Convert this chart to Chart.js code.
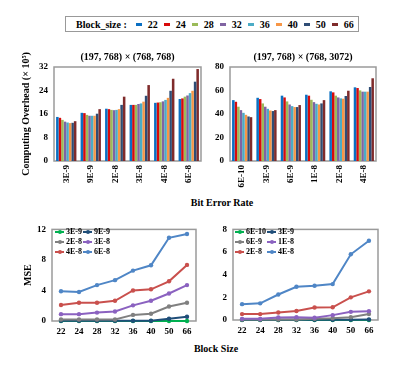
<!DOCTYPE html>
<html>
<head>
<meta charset="utf-8">
<script src="https://cdn.jsdelivr.net/npm/chart.js@4.4.0/dist/chart.umd.min.js"></script>
<style>
  body { margin: 0; background: #fff; }
  #wrap { position: relative; width: 398px; height: 372px; overflow: hidden;
          font-family: "Liberation Serif", serif; font-weight: bold; color: #000; }
  canvas { position: absolute; }
  #topLegend { position: absolute; left: 65px; top: 16px; width: 292px; height: 14px;
               border: 1px solid #999; display: flex; align-items: center; font-size: 10px; white-space: nowrap; }
  #topLegend .head { margin-left: 10px; margin-right: 9px; flex-shrink: 0; }
  #topLegend .sw { display: inline-block; width: 6px; height: 3px; margin-right: 6px; }
  #topLegend .it { margin-right: 6px; display: flex; align-items: center; flex-shrink: 0; }
  .axisLabel { position: absolute; font-size: 10px; transform: translateX(-50%); white-space: nowrap; }
  .lineLegend { position: absolute; display: grid; grid-template-columns: auto auto; column-gap: 1px;
                font-size: 8px; line-height: 10px; }
  .lineLegend .it { display: flex; align-items: center; white-space: nowrap; }
  .lineLegend .mk { position: relative; display: inline-block; width: 9px; height: 2px; margin-right: 2px; flex-shrink: 0; }
  .lineLegend .mk i { position: absolute; left: 2.5px; top: -1px; width: 4px; height: 4px; border-radius: 50%; }
</style>
</head>
<body>
<div id="wrap">
  <div id="topLegend"><span class="head">Block_size :</span></div>
  <canvas id="ovhSmall" width="189" height="146" style="left:16px;top:48px"></canvas>
  <canvas id="ovhLarge" width="180" height="146" style="left:205px;top:48px"></canvas>
  <div class="axisLabel" style="left:222px;top:197px">Bit Error Rate</div>
  <canvas id="mseSmall" width="182" height="125" style="left:18px;top:218px"></canvas>
  <canvas id="mseLarge" width="180" height="125" style="left:205px;top:218px"></canvas>
  <div class="axisLabel" style="left:216px;top:343px">Block Size</div>
  <div class="lineLegend" id="legSmall" style="left:55px;top:227px"></div>
  <div class="lineLegend" id="legLarge" style="left:235px;top:227px"></div>
</div>
<script>
// block sizes (bar series / line x-axis)
const blockSizes = ['22', '24', '28', '32', '36', '40', '50', '66'];
const barColors = ['#0a6fc2', '#d80a0a', '#9bbb59', '#8064a2', '#4bacc6', '#f79646', '#2f4d75', '#7f2b2b'];

// bit error rates
const berSmall = ['3E-9', '9E-9', '2E-8', '3E-8', '4E-8', '6E-8'];
const berLarge = ['6E-10', '3E-9', '6E-9', '1E-8', '2E-8', '4E-8'];

// computing overhead (x10^5), one row per block size, columns = BER
const overheadSmall = [
  [15.0, 16.4, 17.8, 19.1, 19.8, 21.1],
  [14.7, 16.3, 17.65, 19.1, 19.9, 21.3],
  [14.0, 15.7, 17.4, 19.1, 20.0, 21.9],
  [13.4, 15.4, 17.3, 19.4, 20.3, 22.3],
  [13.1, 15.4, 17.4, 19.6, 20.8, 23.1],
  [12.9, 15.4, 17.65, 20.2, 21.5, 23.9],
  [13.0, 16.1, 19.1, 22.2, 23.9, 27.0],
  [13.55, 17.65, 21.9, 25.85, 28.0, 31.3]
];
const overheadLarge = [
  [51.8, 53.8, 55.6, 56.4, 59.3, 62.7],
  [50.4, 52.7, 54.1, 55.6, 58.4, 62.1],
  [46.2, 49.0, 50.7, 52.1, 55.6, 60.1],
  [43.3, 46.2, 48.1, 50.1, 54.1, 59.0],
  [41.0, 44.4, 46.7, 48.7, 53.3, 59.0],
  [39.3, 43.0, 45.9, 48.1, 53.0, 59.0],
  [37.9, 42.5, 45.9, 49.0, 55.3, 63.0],
  [37.3, 43.3, 47.6, 51.8, 59.8, 70.4]
];

// MSE per BER, x = block size
const mseSmall = [
  [0, 0, 0, 0, 0, 0, 0, 0],
  [0.03, 0.03, 0.03, 0.03, 0.03, 0.03, 0.3, 0.55],
  [0.2, 0.2, 0.2, 0.2, 0.8, 0.95, 1.9, 2.4],
  [0.9, 0.9, 1.1, 1.25, 2.05, 2.65, 3.6, 4.7],
  [2.1, 2.4, 2.4, 2.65, 4.0, 4.15, 5.2, 7.35],
  [3.9, 3.8, 4.7, 5.35, 6.6, 7.3, 10.9, 11.4]
];
const mseLarge = [
  [0, 0, 0, 0, 0, 0, 0, 0],
  [0.02, 0.02, 0.02, 0.02, 0.02, 0.02, 0.03, 0.05],
  [0.05, 0.05, 0.05, 0.05, 0.1, 0.15, 0.25, 0.52],
  [0.1, 0.1, 0.23, 0.25, 0.2, 0.43, 0.72, 0.78],
  [0.52, 0.52, 0.66, 0.8, 1.1, 1.12, 2.0, 2.53],
  [1.4, 1.47, 2.25, 2.93, 3.02, 3.17, 5.8, 7.0]
];
const lineColors = ['#00b050', '#1f4e79', '#808080', '#8b62c0', '#c9504d', '#4f86c6'];

Chart.defaults.color = '#000';
Chart.defaults.font.family = '"Liberation Serif", serif';
Chart.defaults.font.weight = 'bold';

const tickFont = { size: 9, weight: 'bold' };
const titleFont = { size: 10, weight: 'bold' };

// grey box round the plot area
const frame = {
  id: 'frame',
  beforeDatasetsDraw(chart) {
    const a = chart.chartArea, ctx = chart.ctx;
    ctx.save();
    ctx.strokeStyle = '#9a9a9a';
    ctx.lineWidth = 1.5;
    ctx.strokeRect(a.left, a.top, a.right - a.left, a.bottom - a.top);
    ctx.restore();
  }
};

const barChart = (id, labels, rows, max, step, title, yTitle, yWidth, padRight) => {
  new Chart(document.getElementById(id), {
    type: 'bar',
    data: {
      labels: labels,
      datasets: blockSizes.map((b, i) => ({
        label: b, data: rows[i], backgroundColor: barColors[i],
        borderWidth: 0, categoryPercentage: 0.83, barPercentage: 1
      }))
    },
    options: {
      responsive: false, animation: false,
      layout: { padding: { right: padRight } },
      plugins: {
        legend: { display: false }, tooltip: { enabled: false },
        title: { display: true, text: title, fullSize: false, font: titleFont, color: '#000', padding: { top: 3, bottom: 4 } }
      },
      scales: {
        x: {
          grid: { display: false, drawTicks: false }, border: { display: false },
          ticks: { minRotation: 90, maxRotation: 90, autoSkip: false, padding: 4, font: tickFont },
          afterFit: (s) => { s.height = 33; }
        },
        y: {
          min: 0, max: max,
          grid: { display: false, drawTicks: false }, border: { display: false },
          ticks: { stepSize: step, padding: 6, font: tickFont },
          title: { display: !!yTitle, text: yTitle, font: titleFont, color: '#000' },
          afterFit: (s) => { s.width = yWidth; }
        }
      }
    },
    plugins: [frame]
  });
};

const lineChart = (id, names, rows, max, step, yTitle, yWidth, padRight, padTop, xHeight) => {
  new Chart(document.getElementById(id), {
    type: 'line',
    data: {
      labels: blockSizes,
      datasets: names.map((n, i) => ({
        label: n, data: rows[i], borderColor: lineColors[i], backgroundColor: lineColors[i],
        borderWidth: 2, pointRadius: 2.2, pointBorderWidth: 0, tension: 0, clip: 4,
        order: 10 - i
      }))
    },
    options: {
      responsive: false, animation: false,
      layout: { padding: { right: padRight, top: padTop } },
      plugins: { legend: { display: false }, tooltip: { enabled: false } },
      scales: {
        x: {
          offset: true,
          grid: { display: false, drawTicks: false }, border: { display: false },
          ticks: { autoSkip: false, maxRotation: 0, padding: 5, font: tickFont },
          afterFit: (s) => { s.height = xHeight; }
        },
        y: {
          min: 0, max: max,
          grid: { display: false, drawTicks: false }, border: { display: false },
          ticks: { stepSize: step, padding: 6, font: tickFont },
          title: { display: !!yTitle, text: yTitle, font: titleFont, color: '#000' },
          afterFit: (s) => { s.width = yWidth; }
        }
      }
    },
    plugins: [frame]
  });
};

// shared legend for the bar charts
const topLegend = document.getElementById('topLegend');
blockSizes.forEach((b, i) => {
  const it = document.createElement('span');
  it.className = 'it';
  it.innerHTML = '<span class="sw" style="background:' + barColors[i] + '"></span>' + b;
  topLegend.appendChild(it);
});

// two-column legends for the line charts
const lineLegend = (id, names) => {
  const el = document.getElementById(id);
  names.forEach((n, i) => {
    const it = document.createElement('span');
    it.className = 'it';
    it.innerHTML = '<span class="mk" style="background:' + lineColors[i] + '"><i style="background:' + lineColors[i] + '"></i></span>' + n;
    el.appendChild(it);
  });
};

barChart('ovhSmall', berSmall, overheadSmall, 32, 8, '(197, 768) \u00d7 (768, 768)', 'Computing Overhead (\u00d7 10\u2075)', 38, 4);
barChart('ovhLarge', berLarge, overheadLarge, 80, 20, '(197, 768) \u00d7 (768, 3072)', '', 25, 9);
lineChart('mseSmall', berSmall, mseSmall, 12, 4, 'MSE', 34, 4, 8, 22);
lineChart('mseLarge', berLarge, mseLarge, 8, 2, '', 28, 7, 9, 23);
lineLegend('legSmall', berSmall);
lineLegend('legLarge', berLarge);
</script>
</body>
</html>
